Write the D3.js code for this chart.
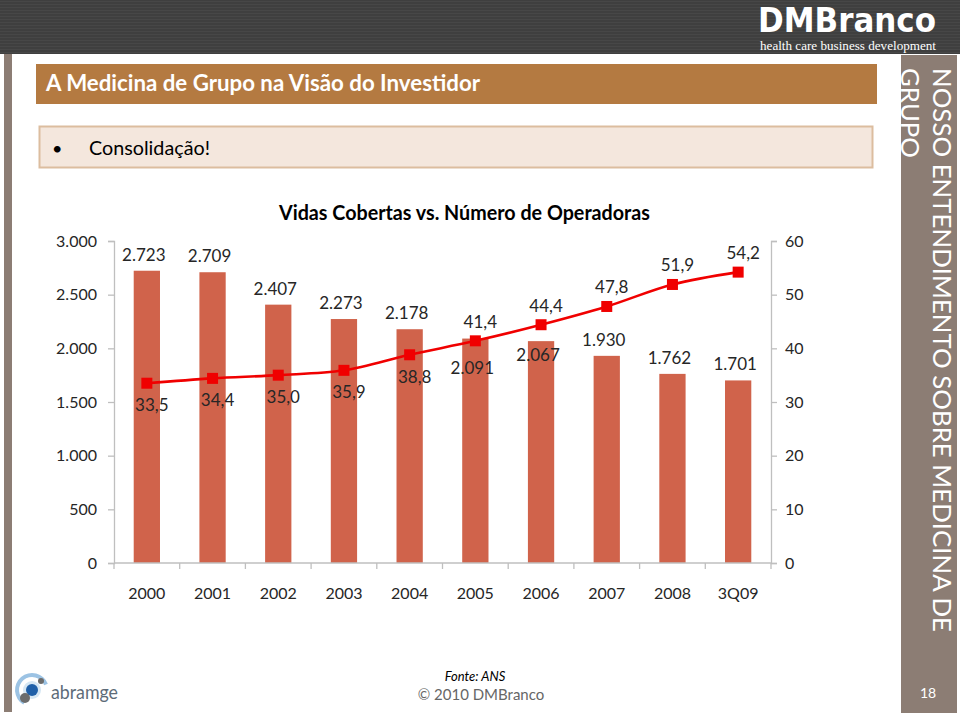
<!DOCTYPE html>
<html><head><meta charset="utf-8">
<script src="https://cdn.jsdelivr.net/npm/d3@7"></script>
<style>
html,body{margin:0;padding:0;background:#fff;}
svg{display:block;}
</style></head>
<body>
<svg id="c" width="960" height="716"></svg>
<script>
// ---- data ----
const categories = ["2000","2001","2002","2003","2004","2005","2006","2007","2008","3Q09"];
const vidasCobertas = [2723,2709,2407,2273,2178,2091,2067,1930,1762,1701];
const numeroOperadoras = [33.5,34.4,35.0,35.9,38.8,41.4,44.4,47.8,51.9,54.2];
const leftTicks = [0,500,1000,1500,2000,2500,3000];
const rightTicks = [0,10,20,30,40,50,60];
const titleText = "A Medicina de Grupo na Visão do Investidor";
const bulletText = "Consolidação!";
const chartTitle = "Vidas Cobertas vs. Número de Operadoras";
const sideText1 = "NOSSO ENTENDIMENTO SOBRE MEDICINA DE";
const sideText2 = "GRUPO";

// ---- layout / style ----
const lineLabelSide = ["below","below","below","below","below","above","above","above","above","above"];
const barLabelShift = [0,0,0,0,0,45,30,0,0,0];

const loc = d3.formatLocale({decimal:",", thousands:".", grouping:[3], currency:["R$",""]});
const fInt = loc.format(",d");
const f1 = loc.format(",.1f");

const svg = d3.select("#c");
const FONT = "Lato, 'Open Sans', sans-serif";

// header
svg.append("rect").attr("x",0).attr("y",0).attr("width",960).attr("height",54).attr("fill","#3f3f3f");
for(let y=1;y<54;y+=3){
  svg.append("rect").attr("x",0).attr("y",y).attr("width",960).attr("height",1).attr("fill","#474747");
}
svg.append("text").attr("x",758).attr("y",32).attr("fill","#fff")
  .attr("font-family","'DejaVu Sans', sans-serif").attr("font-size",33).attr("font-weight","bold")
  .attr("textLength",178).attr("lengthAdjust","spacingAndGlyphs").text("DMBranco");
svg.append("text").attr("x",760).attr("y",50).attr("fill","#fff")
  .attr("font-family","'Liberation Serif', serif").attr("font-size",12.5)
  .attr("textLength",176).attr("lengthAdjust","spacingAndGlyphs").text("health care business development");

// side strips
svg.append("rect").attr("x",4).attr("y",54).attr("width",8).attr("height",658).attr("fill","#8c7d74");
svg.append("rect").attr("x",901).attr("y",55).attr("width",56).attr("height",658).attr("fill","#8c7d74");
svg.append("text").attr("transform","translate(933,68) rotate(90)").attr("fill","#fff")
  .attr("font-family",FONT).attr("font-size",25)
  .attr("textLength",564).attr("lengthAdjust","spacingAndGlyphs").text(sideText1);
svg.append("text").attr("transform","translate(901,68) rotate(90)").attr("fill","#fff")
  .attr("font-family",FONT).attr("font-size",25)
  .attr("textLength",90).attr("lengthAdjust","spacingAndGlyphs").text(sideText2);
svg.append("text").attr("x",928).attr("y",698).attr("text-anchor","middle").attr("fill","#fff")
  .attr("font-family",FONT).attr("font-size",14).text("18");

// title bar
svg.append("rect").attr("x",36).attr("y",64).attr("width",841).attr("height",40).attr("fill","#b47a41");
svg.append("text").attr("x",46).attr("y",91).attr("fill","#fff")
  .attr("font-family",FONT).attr("font-weight","bold").attr("font-size",22)
  .attr("textLength",434).attr("lengthAdjust","spacingAndGlyphs").text(titleText);

// bullet box
svg.append("rect").attr("x",39.5).attr("y",126.5).attr("width",833).attr("height",41)
  .attr("fill","#f4e7dd").attr("stroke","#dcbd9f").attr("stroke-width",2);
svg.append("text").attr("x",52).attr("y",155).attr("fill","#000").attr("font-family",FONT).attr("font-size",18).text("•");
svg.append("text").attr("x",89).attr("y",155).attr("fill","#000").attr("font-family",FONT).attr("font-size",20)
  .attr("textLength",121).attr("lengthAdjust","spacingAndGlyphs").text(bulletText);

// chart title
svg.append("text").attr("x",279).attr("y",220).attr("fill","#000")
  .attr("font-family",FONT).attr("font-weight","bold").attr("font-size",20)
  .attr("textLength",371).attr("lengthAdjust","spacingAndGlyphs").text(chartTitle);

// scales
const x = d3.scaleBand().domain(categories).range([114,771]).paddingInner(0.6).paddingOuter(0.3);
const yL = d3.scaleLinear().domain([0,3000]).range([563,241]);
const yR = d3.scaleLinear().domain([0,60]).range([563,241]);
const step = x.step();
const cx = c => x(c) + x.bandwidth()/2;

// axes
const axisColor = "#bfbfbf";
const textColor = "#262626";
const gL = svg.append("g").attr("transform","translate(114,0)")
  .call(d3.axisLeft(yL).tickValues(leftTicks).tickFormat(fInt).tickSize(6).tickPadding(11));
const gR = svg.append("g").attr("transform","translate(771,0)")
  .call(d3.axisRight(yR).tickValues(rightTicks).tickFormat(d=>d).tickSize(6).tickPadding(8));
[gL,gR].forEach(g=>{
  g.select(".domain").attr("stroke",axisColor).attr("stroke-width",1.3);
  g.selectAll(".tick line").attr("stroke",axisColor).attr("stroke-width",1.3);
  g.selectAll(".tick text").attr("fill",textColor).attr("font-family",FONT).attr("font-size",16);
});
// bars
svg.append("g").selectAll("rect").data(vidasCobertas).join("rect")
  .attr("x",(d,i)=>x(categories[i])).attr("width",x.bandwidth())
  .attr("y",d=>yL(d)).attr("height",d=>yL(0)-yL(d)).attr("fill","#d0634b");

// x axis
const gX = svg.append("g").attr("transform","translate(0,563)");
gX.append("line").attr("x1",114).attr("x2",771).attr("stroke",axisColor).attr("stroke-width",1.3);
gX.selectAll("line.t").data(d3.range(categories.length+1)).join("line").attr("class","t")
  .attr("x1",i=>114+i*step).attr("x2",i=>114+i*step).attr("y1",0).attr("y2",6)
  .attr("stroke",axisColor).attr("stroke-width",1.3);
gX.selectAll("text").data(categories).join("text")
  .attr("x",c=>cx(c)).attr("y",36).attr("text-anchor","middle")
  .attr("fill",textColor).attr("font-family",FONT).attr("font-size",16).text(c=>c);

// bar labels
svg.append("g").selectAll("text").data(vidasCobertas).join("text")
  .attr("x",(d,i)=>cx(categories[i])-3).attr("y",(d,i)=>yL(d)-10+barLabelShift[i])
  .attr("text-anchor","middle").attr("fill",textColor).attr("font-family",FONT).attr("font-size",17)
  .text(d=>fInt(d));

// line
const line = d3.line().x((d,i)=>cx(categories[i])).y(d=>yR(d)).curve(d3.curveCatmullRom.alpha(0.5));
svg.append("path").datum(numeroOperadoras).attr("d",line).attr("fill","none")
  .attr("stroke","#f00000").attr("stroke-width",2.6);
svg.append("g").selectAll("rect").data(numeroOperadoras).join("rect")
  .attr("x",(d,i)=>cx(categories[i])-5.5).attr("y",d=>yR(d)-5.5).attr("width",11).attr("height",11)
  .attr("fill","#f00000");
svg.append("g").selectAll("text").data(numeroOperadoras).join("text")
  .attr("x",(d,i)=>cx(categories[i])+5)
  .attr("y",(d,i)=>yR(d) + (lineLabelSide[i]==="below" ? 28 : -13))
  .attr("text-anchor","middle").attr("fill",textColor).attr("font-family",FONT).attr("font-size",17)
  .text(d=>f1(d));

// footer
svg.append("text").attr("x",475).attr("y",681).attr("text-anchor","middle").attr("fill","#000")
  .attr("font-family",FONT).attr("font-style","italic").attr("font-size",13).text("Fonte: ANS");
svg.append("text").attr("x",481).attr("y",700).attr("text-anchor","middle").attr("fill","#666")
  .attr("font-family",FONT).attr("font-size",15).text("© 2010 DMBranco");

// abramge logo
const lg = svg.append("g").attr("transform","translate(32,690)");
lg.append("path").attr("d",d3.arc()({innerRadius:13,outerRadius:17,startAngle:-2.6,endAngle:1.2})).attr("fill","#9cc3e4");
lg.append("circle").attr("r",9).attr("fill","#d5e6f3");
lg.append("circle").attr("r",6).attr("fill","#1f5fa8");
lg.append("circle").attr("cx",-7).attr("cy",8).attr("r",5).attr("fill","#6c6c6c");
lg.append("circle").attr("cx",9).attr("cy",-9).attr("r",3).attr("fill","#6c6c6c");
svg.append("text").attr("x",51).attr("y",699).attr("fill","#5d6b78")
  .attr("font-family",FONT).attr("font-size",19)
  .attr("textLength",67).attr("lengthAdjust","spacingAndGlyphs").text("abramge");
</script>
</body></html>
